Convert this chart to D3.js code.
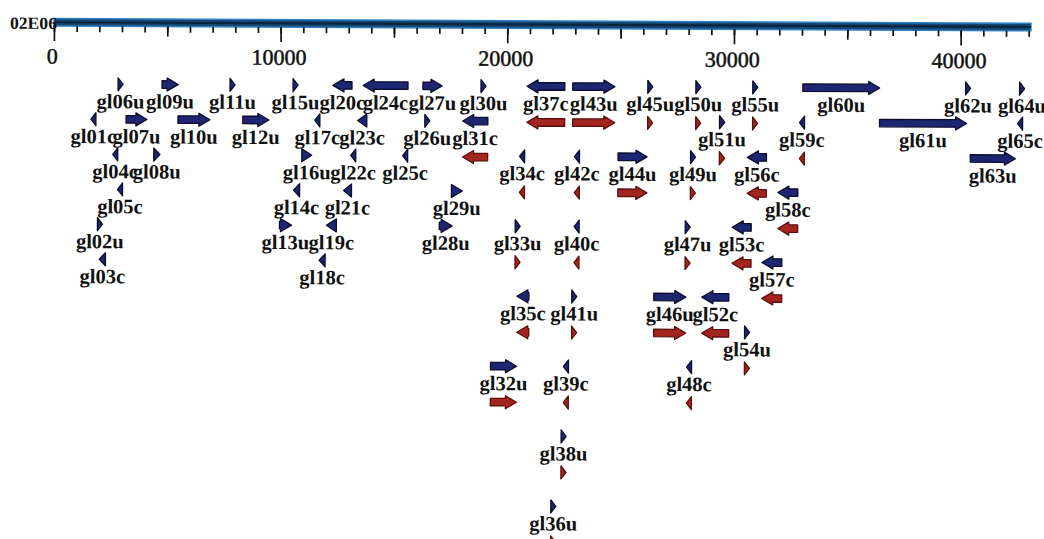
<!DOCTYPE html>
<html>
<head>
<meta charset="utf-8">
<script src="https://cdn.jsdelivr.net/npm/d3@7"></script>
<style>
  html, body { margin: 0; padding: 0; background: #fff; }
  svg { display: block; }
  text { font-family: "Liberation Serif", "Times New Roman", serif; fill: #111; }
</style>
</head>
<body>
<svg id="map" width="1044" height="539"></svg>
<script>
// Sequence length and ruler ticks (bp)
const sequenceLength = 43100;
const majorTicks = [0, 10000, 20000, 30000, 40000];
const midTicks = [5000, 15000, 25000, 35000];
const minorTicks = d3.range(0, 43001, 1000);
const rulerLabel = "02E06";

// Predicted genes: name, start, end (bp) and the label row they sit in
const geneNames = [
  "gl06u","gl09u","gl11u","gl15u","gl20c","gl24c","gl27u","gl30u","gl37c","gl43u","gl45u","gl50u","gl55u","gl60u","gl62u","gl64u",
  "gl01c","gl07u","gl10u","gl12u","gl17c","gl23c","gl26u","gl31c","gl51u","gl59c","gl61u","gl65c",
  "gl04c","gl08u","gl16u","gl22c","gl25c","gl34c","gl42c","gl44u","gl49u","gl56c","gl63u",
  "gl05c","gl14c","gl21c","gl29u","gl58c",
  "gl02u","gl13u","gl19c","gl28u","gl33u","gl40c","gl47u","gl53c",
  "gl03c","gl18c","gl57c",
  "gl35c","gl41u","gl46u","gl52c",
  "gl54u",
  "gl32u","gl39c","gl48c",
  "gl38u",
  "gl36u"
];
const geneStart = [
  2840, 4780, 7780, 10560, 12320, 13650, 16290, 18850, 20880, 22900, 26210, 28330, 30840, 33050, 40230, 42610,
  1650, 3200, 5490, 8350, 11530, 13420, 16380, 18050, 29380, 32910, 36440, 42530,
  2620, 4430, 10960, 13120, 15410, 20570, 22990, 24910, 28110, 30620, 40450,
  2840, 10600, 12810, 17570, 31970,
  1960, 9990, 12060, 17040, 20390, 22990, 27890, 29960,
  2050, 11750, 31280,
  20480, 22900, 26520, 28640,
  30530,
  19330, 22550, 27980,
  22460,
  22020
];
const geneEnd = [
  3060, 5490, 8000, 10780, 13160, 15630, 17130, 19070, 22550, 24760, 26430, 28550, 31060, 36440, 40450, 42830,
  1870, 4120, 6900, 9500, 11750, 13820, 16600, 19160, 29610, 33130, 40280, 42750,
  2840, 4700, 11400, 13340, 15630, 20790, 23210, 26190, 28330, 31460, 42440,
  3060, 10870, 13160, 18050, 32850,
  2180, 10520, 12500, 17610, 20610, 23210, 28110, 30800,
  2320, 12010, 32160,
  21010, 23120, 27930, 29830,
  30750,
  20480, 22770, 28200,
  22680,
  22240
];
const geneRow = [
  0,0,0,0,0,0,0,0,0,0,0,0,0,0,0,0,
  1,1,1,1,1,1,1,1,1,1,1,1,
  2,2,2,2,2,2,2,2,2,2,2,
  3,3,3,3,3,
  4,4,4,4,4,4,4,4,
  5,5,5,
  6,6,6,6,
  7,
  8,8,8,
  10,
  12
];
// Genes gl31 to gl59 also carry a hit on the second track (drawn below the label)
const secondTrackGenes = d3.range(31, 60).map(n => "gl" + n);

const genes = geneNames.map((name, i) => ({
  name,
  start: geneStart[i],
  end: geneEnd[i],
  row: geneRow[i],
  forward: name.endsWith("u"),
  paired: secondTrackGenes.includes(name.slice(0, 4))
}));

const svg = d3.select("#map");
const root = svg.append("g").attr("transform", "rotate(0.28, 56, 22)");

const x = d3.scaleLinear().domain([0, sequenceLength]).range([54, 1031]);

// Ruler bar
const barY = 18.5, barH = 7.5;
root.append("rect")
  .attr("x", x(0)).attr("y", barY)
  .attr("width", x(sequenceLength) - x(0)).attr("height", barH)
  .attr("fill", "#164770").attr("stroke", "#2c80c2").attr("stroke-width", 1.4);
root.append("line")
  .attr("x1", x(0)).attr("x2", x(sequenceLength))
  .attr("y1", barY + barH / 2).attr("y2", barY + barH / 2)
  .attr("stroke", "#0b2440").attr("stroke-width", 2.2);

root.append("text")
  .attr("x", 10).attr("y", 29)
  .attr("textLength", 47).attr("lengthAdjust", "spacingAndGlyphs")
  .style("font-size", "17px").style("font-weight", "bold")
  .text(rulerLabel);

// Ruler ticks
const axisY = barY + barH;
function tickAxis(values, size, format) {
  const g = root.append("g").attr("transform", `translate(0,${axisY})`)
    .call(d3.axisBottom(x).tickValues(values).tickSize(size).tickFormat(format));
  g.select(".domain").remove();
  g.selectAll(".tick line").attr("stroke", "#111").attr("stroke-width", 1.7);
  return g;
}
tickAxis(minorTicks, 6, "");
tickAxis(midTicks, 10, "");
tickAxis(majorTicks, 15, d3.format("d"))
  .selectAll(".tick text")
  .attr("y", 22).attr("dy", "0.71em").attr("dx", -2)
  .attr("stroke", "#111").attr("stroke-width", 0.5)
  .style("font-size", "22px")
  .style("font-family", "'Liberation Serif', serif")
  .attr("fill", "#111");

// Gene arrows and labels
const rowPitch = 35;
const labelMid = r => 101 + rowPitch * r;
const bodyH = 7.5, headH = 13, headLen = 11;

function arrowPath(d, yc) {
  const a = x(d.start), b = x(d.end);
  const len = b - a;
  const hl = Math.min(headLen, len);
  const p = d3.path();
  const tip = d.forward ? b : a;
  const tail = d.forward ? a : b;
  const base = d.forward ? b - hl : a + hl;
  if (len <= headLen) {
    p.moveTo(tail, yc - headH / 2); p.lineTo(tip, yc); p.lineTo(tail, yc + headH / 2);
  } else {
    p.moveTo(tail, yc - bodyH / 2); p.lineTo(base, yc - bodyH / 2); p.lineTo(base, yc - headH / 2);
    p.lineTo(tip, yc); p.lineTo(base, yc + headH / 2); p.lineTo(base, yc + bodyH / 2);
    p.lineTo(tail, yc + bodyH / 2);
  }
  p.closePath();
  return p.toString();
}

const geneG = root.append("g");

geneG.selectAll("path.primary")
  .data(genes)
  .join("path")
  .attr("class", "primary")
  .attr("d", d => arrowPath(d, labelMid(d.row) - 17))
  .attr("fill", "#1d2670")
  .attr("stroke", "#0b0c2c")
  .attr("stroke-width", 1.3)
  .attr("stroke-linejoin", "round");

geneG.selectAll("path.secondary")
  .data(genes.filter(d => d.paired))
  .join("path")
  .attr("class", "secondary")
  .attr("d", d => arrowPath(d, labelMid(d.row) + 19))
  .attr("fill", "#a32520")
  .attr("stroke", "#5c0e0b")
  .attr("stroke-width", 1.3)
  .attr("stroke-linejoin", "round");

geneG.selectAll("text.gene")
  .data(genes)
  .join("text")
  .attr("class", "gene")
  .attr("x", d => (x(d.start) + x(d.end)) / 2)
  .attr("y", d => labelMid(d.row) + 7)
  .attr("text-anchor", "middle")
  .style("font-size", "20.5px")
  .style("font-weight", "bold")
  .text(d => d.name);
</script>
</body>
</html>
